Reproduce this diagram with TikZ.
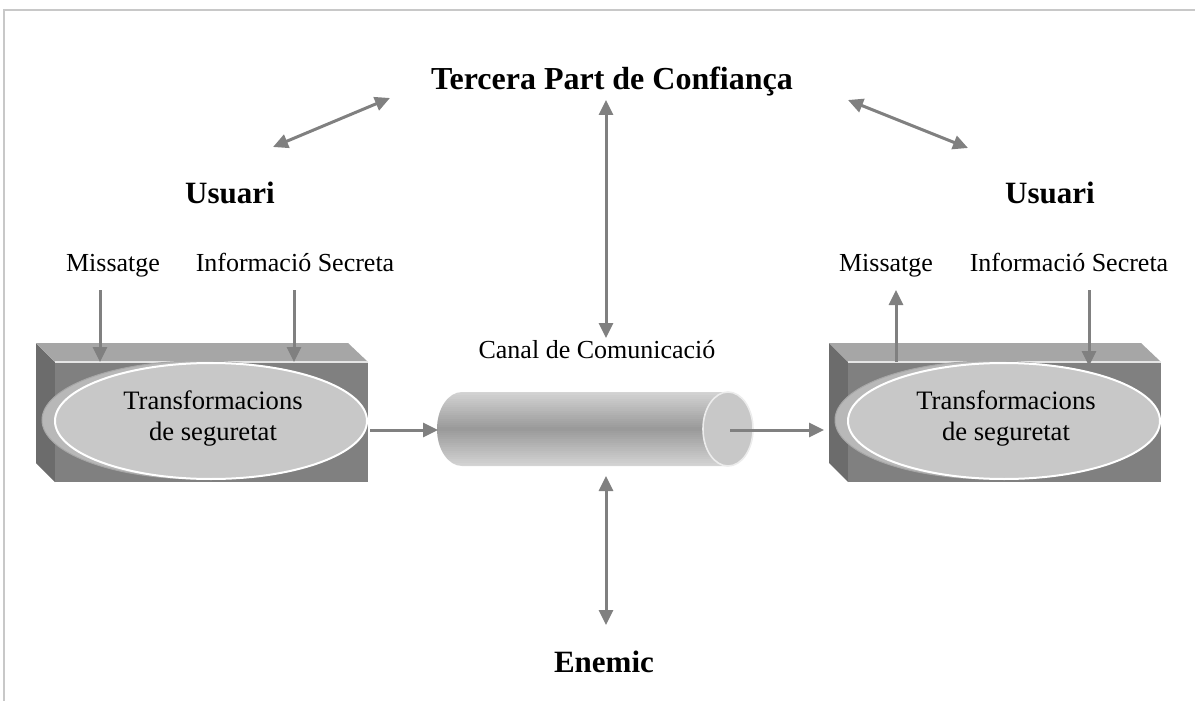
\documentclass[tikz,border=0pt]{standalone}
\usepackage{fontspec}
\setmainfont{Liberation Serif}
\usetikzlibrary{arrows.meta}
\definecolor{arrgray}{HTML}{808080}
\definecolor{framegray}{HTML}{C8C8C8}
\definecolor{frontgray}{HTML}{808080}
\definecolor{topgray}{HTML}{A6A6A6}
\definecolor{sidegray}{HTML}{6C6C6C}
\definecolor{facegray}{HTML}{C8C8C8}
\definecolor{rimgray}{HTML}{B8B8B8}
\begin{document}
\begin{tikzpicture}[x=0.5pt,y=-0.5pt,
  tip/.style={-{Triangle[length=7.5pt,width=7pt]}},
  arr/.style={draw=arrgray,line width=1.5pt,tip},
  darr/.style={draw=arrgray,line width=1.5pt,{Triangle[length=7.5pt,width=7pt]}-{Triangle[length=7.5pt,width=7pt]}},
  lbl/.style={font=\fontsize{13}{15}\selectfont,inner sep=0pt,anchor=base},
  blbl/.style={font=\fontsize{15.5}{18}\selectfont\bfseries,inner sep=0pt},
  trtxt/.style={font=\fontsize{13.3}{15.5}\selectfont,align=center,inner sep=0pt}]
\useasboundingbox (0,0) rectangle (1195,701);
\draw[framegray,line width=1.2pt] (4,701) -- (4,10) -- (1195,10);

% texts
\node[font=\fontsize{16}{19}\selectfont\bfseries,inner sep=0pt] (title) at (612,82) {Tercera Part de Confiança};
\node[blbl] (usuL) at (230,193) {Usuari};
\node[blbl] (usuR) at (1050,193) {Usuari};
\node[lbl] (misL) at (113,271) {Missatge};
\node[lbl] (infL) at (295,271) {Informació Secreta};
\node[lbl] (misR) at (886,271) {Missatge};
\node[lbl] (infR) at (1069,271) {Informació Secreta};
\node[lbl] (canal) at (597,358) {Canal de Comunicació};
\node[blbl] (enemic) at (604,662) {Enemic};

% boxes
\foreach \dx/\nm in {0/L,793/R}{
\begin{scope}[shift={(\dx,0)}]
  \fill[sidegray] (36,343) -- (55,362) -- (55,482) -- (36,463) -- cycle;
  \fill[topgray] (36,343) -- (348,343) -- (368,362) -- (55,362) -- cycle;
  \fill[frontgray] (55,362) rectangle (368,482);
  \draw[white!80!gray,line width=0.6pt] (55,362) -- (368,362);
  \fill[rimgray] (199,420) ellipse[x radius=157,y radius=59];
  \draw[gray!70,line width=0.5pt] (199,420) ellipse[x radius=157,y radius=59];
  \fill[facegray] (211,421) ellipse[x radius=156,y radius=58];
  \draw[white,line width=1pt] (211,421) ellipse[x radius=156,y radius=58];
  \node[trtxt] (tr\nm) at (213,419) {Transformacions\\de seguretat};
\end{scope}}

% cylinder
\begin{scope}
  \clip (728,392) -- (462,392) arc[start angle=270,end angle=90,x radius=25,y radius=37]
    -- (728,466) arc[start angle=90,end angle=-90,x radius=25,y radius=37] -- cycle;
  \foreach \i in {0,...,37}{
    \pgfmathsetmacro{\p}{int(round(80-46*abs(\i-18.5)/18.5))}
    \fill[gray!\p] (430,391+2*\i) rectangle (760,393.2+2*\i);
  }
\end{scope}
\fill[facegray] (728,429) ellipse[x radius=25,y radius=37];
\draw[white!85!gray,line width=0.8pt] (728,429) ellipse[x radius=25,y radius=37];
\coordinate (cylL) at (438,430);
\coordinate (cylC) at (730,430);

% coordinates for arrows
\coordinate (dl1) at (273,147); \coordinate (dl2) at (390,98);
\coordinate (dr1) at (848,100); \coordinate (dr2) at (968,148);
\coordinate (vt1) at (606,100); \coordinate (vt2) at (606,338);
\coordinate (vb1) at (606,476); \coordinate (vb2) at (606,625);
\coordinate (mL1) at (100,290); \coordinate (mL2) at (100,362);
\coordinate (iL1) at (294,290); \coordinate (iL2) at (294,362);
\coordinate (mR1) at (896,362); \coordinate (mR2) at (896,290);
\coordinate (iR1) at (1089,290); \coordinate (iR2) at (1089,366);
\coordinate (bL) at (370,430);
\coordinate (bR) at (824,430);

\draw[darr] (dl1) -- (dl2);
\draw[darr] (dr1) -- (dr2);
\draw[darr] (vt1) -- (vt2);
\draw[darr] (vb1) -- (vb2);
\draw[arr] (mL1) -- (mL2);
\draw[arr] (iL1) -- (iL2);
\draw[arr] (mR1) -- (mR2);
\draw[arr] (iR1) -- (iR2);
\draw[arr] (bL) -- (cylL);
\draw[arr] (cylC) -- (bR);
\end{tikzpicture}
\end{document}
